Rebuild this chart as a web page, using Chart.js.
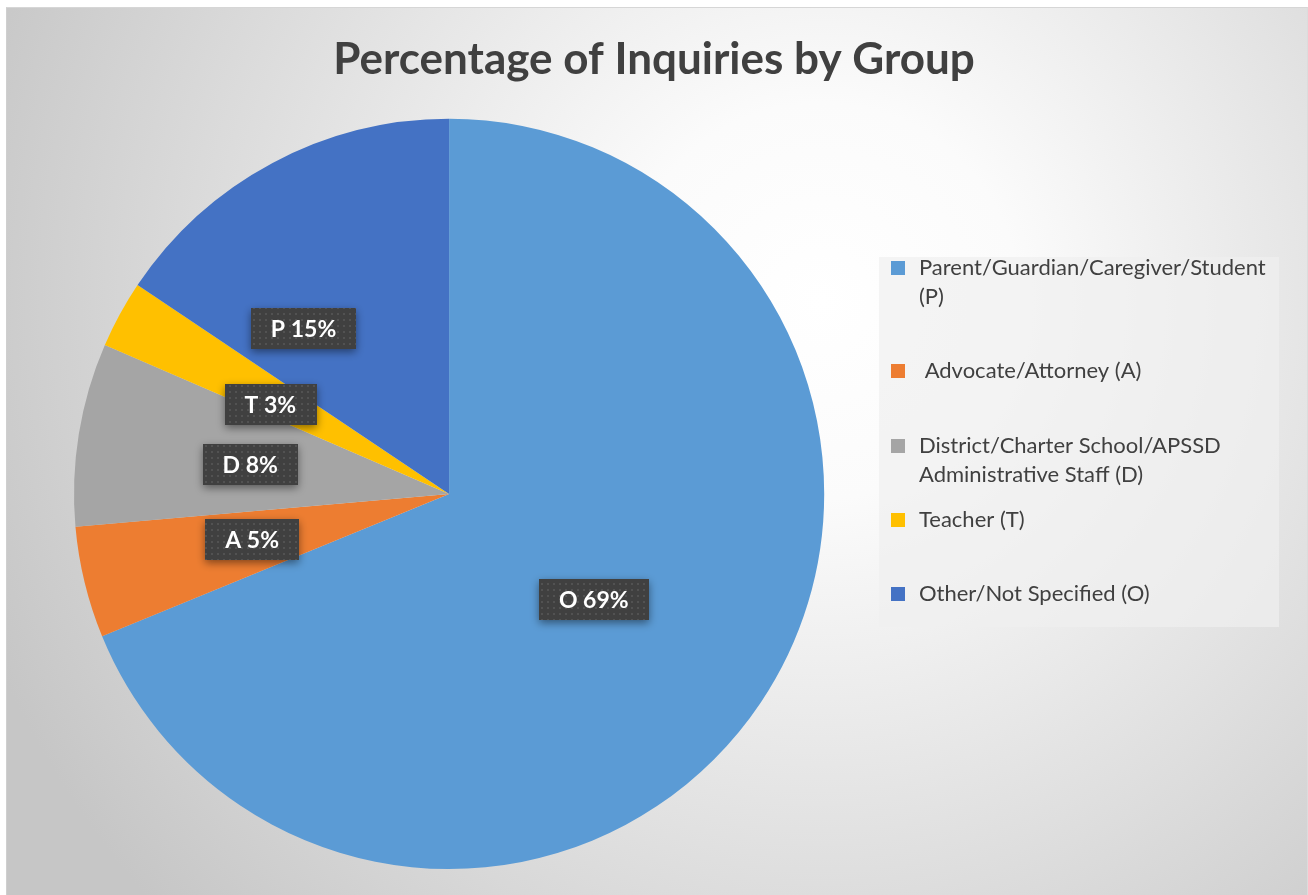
<!DOCTYPE html>
<html>
<head>
<meta charset="utf-8">
<script src="https://cdn.jsdelivr.net/npm/chart.js@4.4.0/dist/chart.umd.min.js"></script>
<style>
  html, body { margin: 0; padding: 0; background: #ffffff; }
  #bg {
    position: absolute; left: 6px; top: 7px; width: 1300px; height: 890px;
    border-left: 1px solid #cfcfcf; border-top: 1px solid #d6d6d6; border-right: 1px solid #dcdcdc;
    background: radial-gradient(circle 900px at 814px 293px, #ffffff 0%, #fbfbfb 22%, #c6c6c6 100%);
  }
  #wrap { position: absolute; left: 0; top: 0; width: 1308px; height: 895px; }
</style>
</head>
<body>
<div id="bg"></div>
<div id="wrap"><canvas id="c"></canvas></div>
<script>
// ---- data ----
const chartTitle = "Percentage of Inquiries by Group";
const categories = [
  ["Parent/Guardian/Caregiver/Student", "(P)"],
  [" Advocate/Attorney (A)"],
  ["District/Charter School/APSSD", "Administrative Staff (D)"],
  ["Teacher (T)"],
  ["Other/Not Specified (O)"]
];
const values = [68.8, 4.8, 7.9, 2.9, 15.6];
const dataLabels = ["O 69%", "A 5%", "D 8%", "T 3%", "P 15%"];
const colors = ["#5B9BD5", "#ED7D31", "#A5A5A5", "#FFC000", "#4472C4"];

// ---- label placement (layout) ----
const labelRadiusFrac = [0.477, 0.539, 0.536, 0.533, 0.587];
const labelAngleShiftDeg = [2.2, 0.6, -0.7, -2.0, -13.3];

// dotted pattern for label boxes
function makePattern(ctx) {
  const p = document.createElement('canvas');
  p.width = 6; p.height = 6;
  const pc = p.getContext('2d');
  pc.fillStyle = '#404040'; pc.fillRect(0, 0, 6, 6);
  pc.fillStyle = '#525252'; pc.fillRect(1, 1, 2, 2);
  return ctx.createPattern(p, 'repeat');
}

const areaPlugin = {
  id: 'areaPlugin',
  afterLayout(chart) {
    const a = chart.chartArea;
    const size = a.bottom - a.top;
    a.left = 74;
    a.right = a.left + size;
    a.width = size;
    a.height = size;
  }
};

const labelPlugin = {
  id: 'labelPlugin',
  afterDatasetsDraw(chart) {
    const ctx = chart.ctx;
    const meta = chart.getDatasetMeta(0);
    const pat = makePattern(ctx);
    ctx.save();
    ctx.font = 'bold 23px Lato';
    ctx.textAlign = 'center';
    ctx.textBaseline = 'middle';
    meta.data.forEach((arc, i) => {
      const p = arc.getProps(['x', 'y', 'startAngle', 'endAngle', 'outerRadius'], true);
      const mid = (p.startAngle + p.endAngle) / 2 + labelAngleShiftDeg[i] * Math.PI / 180;
      const r = p.outerRadius * labelRadiusFrac[i];
      const cx = p.x + Math.cos(mid) * r;
      const cy = p.y + Math.sin(mid) * r;
      const tw = ctx.measureText(dataLabels[i]).width;
      const bw = tw + 40, bh = 41;
      ctx.save();
      ctx.shadowColor = 'rgba(0,0,0,0.45)';
      ctx.shadowBlur = 8;
      ctx.shadowOffsetY = 3;
      ctx.fillStyle = pat;
      ctx.fillRect(Math.round(cx - bw / 2), Math.round(cy - bh / 2), Math.round(bw), bh);
      ctx.restore();
      ctx.fillStyle = '#ffffff';
      ctx.fillText(dataLabels[i], cx, cy + 1);
    });
    ctx.restore();
  }
};

const legendPlugin = {
  id: 'customLegend',
  afterDraw(chart) {
    const ctx = chart.ctx;
    const box = { left: 879, top: 257, width: 400, height: 370 };
    const rowTop = [11, 114, 189, 263, 337];
    const lineH = 28.5;
    ctx.save();
    ctx.fillStyle = 'rgba(240,240,240,0.7)';
    ctx.fillRect(box.left, box.top, box.width, box.height);
    ctx.font = '22px Lato';
    ctx.textBaseline = 'middle';
    ctx.textAlign = 'left';
    chart.data.labels.forEach((lines, i) => {
      const y0 = box.top + rowTop[i];
      ctx.fillStyle = chart.data.datasets[0].backgroundColor[i];
      ctx.fillRect(box.left + 12, Math.round(y0 - 7), 14, 14);
      ctx.fillStyle = '#404040';
      lines.forEach((ln, k) => {
        ctx.fillText(ln, box.left + 40, y0 + k * lineH);
      });
    });
    ctx.restore();
  }
};

new Chart(document.getElementById('c'), {
  type: 'pie',
  data: {
    labels: categories,
    datasets: [{
      data: values,
      backgroundColor: colors,
      borderWidth: 0,
      clip: false
    }]
  },
  options: {
    responsive: true,
    maintainAspectRatio: false,
    animation: false,
    layout: { padding: { left: 0, right: 0, top: 0, bottom: 26 } },
    plugins: {
      legend: { display: false },
      tooltip: { enabled: false },
      title: {
        display: true,
        text: chartTitle,
        color: '#404040',
        font: { family: 'Lato', weight: 'bold', size: 44, lineHeight: 1.2 },
        padding: { top: 33, bottom: 33 }
      }
    }
  },
  plugins: [areaPlugin, labelPlugin, legendPlugin]
});
</script>
</body>
</html>
